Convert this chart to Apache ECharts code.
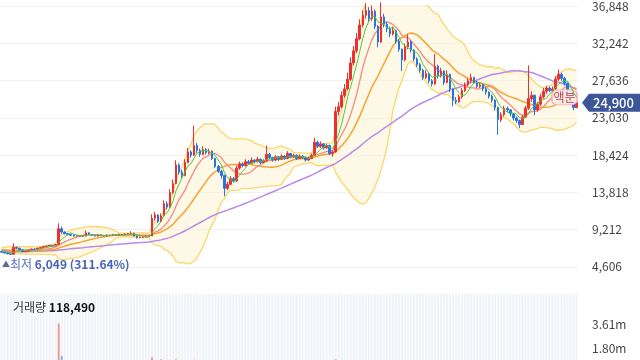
<!DOCTYPE html>
<html><head><meta charset="utf-8">
<script src="https://cdn.jsdelivr.net/npm/echarts@6/dist/echarts.min.js"></script>
<style>html,body{margin:0;padding:0;background:#fff}#c{width:640px;height:360px}</style>
</head><body><div id="c"></div>
<script>
// closes before the visible window (only used for moving averages / bands)
const priorCloses = [6150,6200,6100,6050,6150,6250,6200,6300,6250,6150,6100,6200,6300,6350,6250,6200,6150,6250,6300,6400,6350,6300,6250,6200,6300,6400,6450,6350,6300,6250,6300,6350,6400,6450,6500,6400,6350,6450,6500,6550,6650,6700,6800,6750,6850,6900,6800,6750,6700,6800,6850,6900,6800,6700,6650,6600,6700,6650,6550];

const opens = [6500,6400,6300,6200,6150,7000,6900,6700,6450,6500,
6700,6800,6750,6900,7000,7100,7150,7250,7200,7350,
9300,8900,8700,8600,8500,8400,8450,8350,8400,8800,
8600,8500,8400,8550,8450,8400,8500,8450,8550,8500,
8600,8550,8650,8700,8750,8400,8200,8250,8300,8400,
8400,10600,11000,10200,10900,12400,12000,13800,14900,17200,
16300,15900,17500,18800,18400,19600,19000,18500,19100,18700,
18900,18000,17000,16400,15900,14300,14800,15500,15200,16800,
17300,17100,17600,17400,17800,17600,17900,17500,17700,18500,
18100,17800,18200,17900,18300,18000,18600,18200,18400,18000,
18300,18100,17800,18000,18400,20000,19500,19800,19300,19600,
18600,18800,23800,24400,25800,26600,27800,29800,31300,32800,
34500,35700,36300,35300,36200,34300,32400,35500,34600,34000,
33400,33800,32500,31500,30200,31800,32400,31400,30300,29600,
28900,28000,28500,27600,27200,29400,28200,28800,27400,28400,
26600,25200,25000,25600,26400,27100,27600,28000,27400,26900,
27100,26600,26200,25700,25200,24300,22800,23400,24200,24000,
23500,23000,22700,22200,23100,24200,25400,25800,24000,24700,
25600,26300,26700,26400,26600,27800,28400,27900,27300,26400,
25000,24300];

const closes = [6400,6300,6200,6150,7000,6900,6700,6450,6500,6700,
6800,6750,6900,7000,7100,7150,7250,7200,7350,9300,
8900,8700,8600,8500,8400,8450,8350,8400,8800,8600,
8500,8400,8550,8450,8400,8500,8450,8550,8500,8600,
8550,8650,8700,8750,8400,8200,8250,8300,8400,8350,
10600,11000,10200,10900,12400,12000,13800,14900,17200,16300,
15900,17500,18800,18400,19600,19000,18500,19100,18700,18900,
18000,17000,16400,15900,14300,14800,15500,15200,16800,17300,
17100,17600,17400,17800,17600,17900,17500,17700,18500,18100,
17800,18200,17900,18300,18000,18600,18200,18400,18000,18300,
18100,17800,18000,18400,20000,19500,19800,19300,19600,18600,
18800,23800,24400,25800,26600,27800,29800,31300,32800,34500,
35700,36300,35300,36200,34300,32400,35500,34600,34000,33400,
33800,32500,31500,30200,31800,32400,31400,30300,29600,28900,
28000,28500,27600,27200,29400,28200,28800,27400,28400,26600,
25200,25000,25600,26400,27100,27600,28000,27400,26900,27100,
26600,26200,25700,25200,24300,22800,23400,24200,24000,23500,
23000,22700,22200,23100,24200,25400,25800,24000,24700,25600,
26300,26700,26400,26600,27800,28400,27900,27300,26400,25000,
24300,24900];

const lows = [6350,6250,6150,6049,6150,6800,6650,6400,6400,6450,
6650,6700,6700,6850,6950,7050,7100,7100,7150,7300,
8700,8600,8500,8400,8300,8350,8300,8300,8350,8550,
8450,8350,8350,8400,8350,8350,8400,8400,8450,8450,
8500,8500,8600,8650,8350,8100,8150,8200,8250,8300,
8400,10300,10000,10100,10800,11700,11900,13600,14800,16000,
15600,15800,17400,18100,18300,18700,18200,18400,18500,18500,
17800,16800,16200,15500,13340,14100,14700,15000,15100,16600,
16900,17000,17200,17300,17400,17500,17300,17400,17600,17900,
17600,17700,17700,17800,17800,17900,18000,18100,17800,17900,
17900,17600,17700,17900,18300,19300,19300,19100,19200,18400,
18200,18700,23300,24200,25500,26400,27600,29500,31000,32600,
34200,35300,34900,35000,34000,31740,32300,34200,33600,33000,
33200,32200,31200,28800,30000,31500,31100,30000,29300,28600,
27700,27800,27300,26900,27100,27900,28000,27100,27300,26200,
24440,24700,24900,25400,26200,26900,27300,27200,26700,26700,
26300,25900,25400,24900,23900,20920,22500,23200,23700,23200,
22700,22400,21770,22100,23000,24000,25000,23350,23800,24500,
25400,26000,26200,26200,26500,27600,27600,27000,26100,24700,
23960,24200];

const highs = [6550,6450,6350,6250,7500,7100,6950,6750,6600,6750,
6850,6900,6950,7050,7200,7250,7300,7300,7450,9970,
9600,9000,8800,8700,8600,8550,8500,8500,9100,8850,
8650,8550,8650,8600,8500,8600,8550,8650,8600,8700,
8650,8750,8800,9000,8800,8450,8350,8400,8500,8450,
11100,11400,11100,11200,12800,12700,14200,15400,17760,17400,
16600,17900,19300,19000,22050,19900,19200,19500,19300,19200,
19000,18100,17200,16600,16000,15100,15800,15700,17100,17600,
17500,17900,17800,18100,17900,18200,18000,17900,19600,18700,
18200,18400,18300,18500,18400,18900,18700,18600,18500,18500,
18400,18200,18200,18600,20550,20200,20100,19900,19800,19700,
19000,24400,25000,26300,27200,28600,30500,31900,33500,35200,
36300,37200,36700,36900,36400,34500,37300,35900,34900,34300,
34300,33900,32700,31600,32200,33320,32600,31500,30500,29800,
29100,28900,28700,27800,30890,29600,29200,28900,28900,28500,
26700,25600,25900,26700,27400,27900,28460,28100,27600,27400,
27200,26800,26300,25900,25300,24400,23700,24500,24400,24100,
23600,23200,22800,23400,24500,29500,26300,25900,25000,26000,
26700,27000,26900,26900,28200,29000,28600,28100,27400,26500,
25200,25100];

const volumes = [210000,180000,195000,240000,520000,310000,220000,260000,190000,170000,200000,160000,180000,210000,230000,190000,220000,200000,260000,
3650000,1200000,
560000,420000,380000,300000,280000,260000,240000,480000,330000,280000,250000,260000,240000,220000,230000,210000,250000,220000,260000,230000,270000,300000,380000,310000,270000,230000,220000,250000,210000,
1100000,680000,640000,950000,700000,560000,660000,620000,950000,600000,540000,600000,650000,500000,920000,
560000,480000,440000,420000,400000,460000,430000,400000,390000,560000,440000,380000,340000,420000,360000,330000,310000,300000,300000,280000,290000,270000,260000,480000,320000,300000,280000,290000,260000,250000,300000,270000,260000,280000,250000,260000,240000,230000,250000,520000,400000,360000,320000,300000,330000,300000,
950000,
620000,600000,560000,580000,640000,630000,600000,650000,600000,580000,540000,560000,620000,650000,630000,520000,470000,440000,420000,400000,440000,420000,520000,450000,480000,400000,380000,360000,350000,340000,320000,330000,310000,480000,360000,340000,310000,330000,380000,430000,330000,290000,270000,280000,290000,270000,250000,240000,230000,220000,240000,250000,270000,420000,500000,320000,270000,250000,230000,220000,210000,240000,230000,290000,640000,450000,400000,330000,310000,290000,270000,250000,290000,360000,330000,270000,250000,230000,210000,118490];

const priceAxis = {min: 0, max: 36848, interval: 4606};
// volume axis: labels every 1,805,000; the visible part of the panel starts above 0
const volAxis = {min: 902500, max: 5866250, interval: 902500, labelStep: 1805000};
const lastPrice = 24900;
const lowPrice = 6049;
const lowPct = '311.64%';
const lastVolumeText = '118,490';
const splitMarkIndex = 187, splitMarkValue = 25550;

const cats = closes.map((_, i) => String(i));
const all = priorCloses.concat(closes);
const P = priorCloses.length;
function ma(n) {
  return closes.map((_, i) => {
    const k = i + P; let s = 0;
    for (let j = k - n + 1; j <= k; j++) s += all[j];
    return +(s / n).toFixed(1);
  });
}
const ma5 = ma(5), ma10 = ma(10), ma20 = ma(20), ma60 = ma(60);
const bbUp = [], bbLo = [], bbDiff = [];
closes.forEach((_, i) => {
  const k = i + P; let s = 0, s2 = 0;
  for (let j = k - 19; j <= k; j++) { s += all[j]; }
  const m = s / 20;
  for (let j = k - 19; j <= k; j++) { s2 += (all[j] - m) * (all[j] - m); }
  const sd = Math.sqrt(s2 / 20);
  bbUp.push(m + 2 * sd); bbLo.push(m - 2 * sd); bbDiff.push(4 * sd);
});
const candle = closes.map((c, i) => [opens[i], c, lows[i], highs[i]]);
const UP = '#ef2f2f', DOWN = '#2872e4';
const volData = volumes.map((v, i) => ({
  value: v,
  itemStyle: {color: closes[i] >= opens[i] ? 'rgba(240,90,90,0.6)' : 'rgba(60,130,230,0.6)'}
}));

const FONT = '"Noto Sans CJK KR", "Noto Sans", sans-serif';
const chart = echarts.init(document.getElementById('c'), null, {renderer: 'canvas'});
const line = (name, data, color, w, z) => ({
  name, type: 'line', data, symbol: 'none', smooth: false, z: z || 2,
  lineStyle: {color, width: w}, itemStyle: {color}, xAxisIndex: 0, yAxisIndex: 0, silent: true
});

chart.setOption({
  animation: false,
  backgroundColor: '#fff',
  grid: [
    {left: 0, top: 1, width: 578, height: 303},
    {left: 0, top: 294, width: 578, height: 66}
  ],
  xAxis: [
    {type: 'category', data: cats, gridIndex: 0, boundaryGap: true, show: false},
    {type: 'category', data: cats, gridIndex: 1, boundaryGap: true, show: false}
  ],
  yAxis: [
    {type: 'value', gridIndex: 0, position: 'right', min: priceAxis.min, max: priceAxis.max, interval: priceAxis.interval,
      axisLine: {show: false}, axisTick: {show: false},
      axisLabel: {color: '#444', fontSize: 12, margin: 14, fontFamily: FONT, showMinLabel: false,
        formatter: v => v === 0 ? '' : v.toLocaleString('en-US')},
      splitLine: {show: true, showMinLine: false, lineStyle: {color: '#eef0f4', width: 1}}},
    {type: 'value', gridIndex: 1, position: 'right', min: volAxis.min, max: volAxis.max, interval: volAxis.interval,
      axisLine: {show: false}, axisTick: {show: false}, splitLine: {show: false},
      axisLabel: {color: '#444', fontSize: 12, margin: 14, fontFamily: FONT, showMinLabel: false, showMaxLabel: false,
        formatter: v => {
          const r = v / volAxis.labelStep;
          return (Math.abs(r - Math.round(r)) < 1e-6 && v < 4e6) ? (v / 1e6).toFixed(2) + 'm' : '';
        }}}
  ],
  series: [
    {name: 'bbBase', type: 'line', data: bbLo, stack: 'bb', symbol: 'none', lineStyle: {opacity: 0}, silent: true, z: 1},
    {name: 'bbFill', type: 'line', data: bbDiff, stack: 'bb', symbol: 'none', lineStyle: {opacity: 0}, silent: true, z: 1,
      areaStyle: {color: 'rgba(254,244,208,0.75)'}},
    line('bbUpper', bbUp, '#fbd76a', 1.3, 2),
    line('bbLower', bbLo, '#fbd76a', 1.3, 2),
    line('ma60', ma60, '#b88be6', 1.5, 3),
    line('ma20', ma20, '#f5a235', 1.5, 3),
    line('ma10', ma10, '#f28a80', 1.3, 3),
    {name: 'price', type: 'candlestick', data: candle, xAxisIndex: 0, yAxisIndex: 0, barWidth: 2, z: 4,
      itemStyle: {color: UP, color0: DOWN, borderColor: UP, borderColor0: DOWN, borderWidth: 1},
      markPoint: {
        symbol: 'roundRect', symbolSize: [25, 15], silent: true,
        data: [{coord: [splitMarkIndex, splitMarkValue],
          itemStyle: {color: 'rgba(253,234,234,0.95)', borderColor: '#f2a5a5', borderWidth: 1},
          label: {show: true, position: 'inside', formatter: '액분', color: '#b04848', fontSize: 12, fontFamily: FONT}}]
      }},
    line('ma5', ma5, '#4fc64a', 1, 5),
    {name: 'volume', type: 'bar', data: volData, xAxisIndex: 1, yAxisIndex: 1, barCategoryGap: '35%', clip: true,
      showBackground: true, backgroundStyle: {color: '#eff2f8'}, z: 2}
  ]
});

const yLast = chart.convertToPixel({yAxisIndex: 0}, lastPrice);
const yLow = chart.convertToPixel({yAxisIndex: 0}, lowPrice);
chart.setOption({
  graphic: [
    {type: 'polygon', z: 100, shape: {points: [[582, yLast], [589, yLast - 9], [640, yLast - 9], [640, yLast + 9], [589, yLast + 9]]},
      style: {fill: '#3c5699'}},
    {type: 'text', z: 101, x: 593, y: yLast, style: {text: lastPrice.toLocaleString('en-US'), fill: '#fff', font: '500 13px ' + FONT, verticalAlign: 'middle'}},
    {type: 'text', z: 101, x: 2, y: yLow + 9, style: {
      text: '{t|▲}{a|최저 }{b|' + lowPrice.toLocaleString('en-US') + ' (' + lowPct + ')}', verticalAlign: 'middle',
      rich: {t: {fontSize: 8, fill: '#5a6a9a', fontFamily: FONT}, a: {fontSize: 12, fill: '#5570c0', fontFamily: FONT},
             b: {fontSize: 12, fontWeight: 'bold', fill: '#4a64b4', fontFamily: FONT}}}},
    {type: 'text', z: 101, x: 13, y: 307, style: {
      text: '{a|거래량 }{b|' + lastVolumeText + '}', verticalAlign: 'middle',
      rich: {a: {fontSize: 12, fill: '#333', fontFamily: FONT}, b: {fontSize: 12, fontWeight: 'bold', fill: '#111', fontFamily: FONT}}}}
  ]
});
</script>
</body></html>
